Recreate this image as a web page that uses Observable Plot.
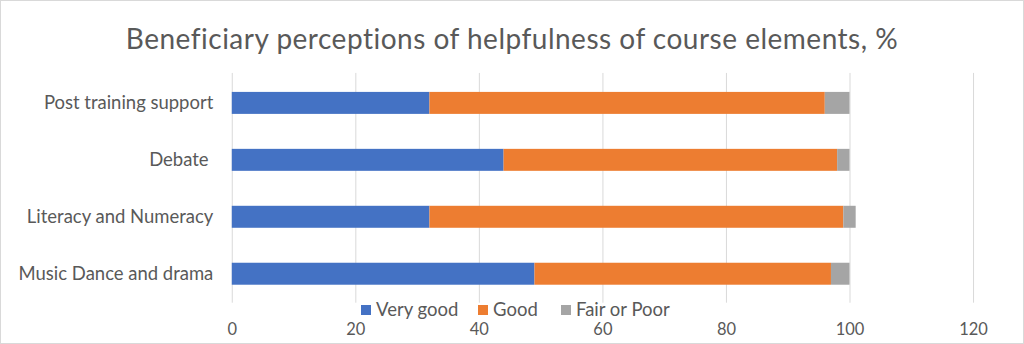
<!DOCTYPE html>
<html>
<head>
<meta charset="utf-8">
<script src="https://cdn.jsdelivr.net/npm/d3@7"></script>
<script src="https://cdn.jsdelivr.net/npm/@observablehq/plot@0.6"></script>
<style>
  html, body { margin: 0; padding: 0; background: #fff; }
  #wrap { position: relative; width: 1022px; height: 342px; border: 1px solid #d9d9d9; overflow: hidden; font-family: Lato, "Open Sans", sans-serif; color: #595959; }
  #title { position: absolute; top: 20px; left: 0; width: 100%; text-align: center; font-size: 28px; line-height: 34px; letter-spacing: 0.5px; }
  #chart { position: absolute; top: -1px; left: -1px; }
  #legend { position: absolute; top: 297px; left: 0; width: 100%; height: 22px; font-size: 18.5px; line-height: 22px; }
  #legend .item { position: absolute; top: 0; white-space: nowrap; }
  #legend span.sw { display: inline-block; width: 10px; height: 10px; margin-right: 5px; vertical-align: 1px; }
</style>
</head>
<body>
<div id="wrap">
  <div id="chart"></div>
  <div id="title">Beneficiary perceptions of helpfulness of course elements, %</div>
  <div id="legend"></div>
</div>
<script>
const categories = ["Post training support", "Debate\u00a0", "Literacy and Numeracy", "Music Dance and drama"];
const seriesNames = ["Very good", "Good", "Fair or Poor"];
const seriesColors = ["#4472C4", "#ED7D31", "#A5A5A5"];
const veryGood = [32, 44, 32, 49];
const good = [64, 54, 67, 48];
const fairPoor = [4, 2, 2, 3];
const xTicks = [0, 20, 40, 60, 80, 100, 120];

const seriesValues = [veryGood, good, fairPoor];
const data = [];
categories.forEach((c, i) => {
  seriesNames.forEach((s, j) => data.push({category: c, series: s, value: seriesValues[j][i]}));
});

const chart = Plot.plot({
  width: 1024,
  height: 344,
  marginTop: 73,
  marginBottom: 41,
  marginLeft: 232,
  marginRight: 50,
  style: {fontFamily: "Lato, 'Open Sans', sans-serif", fontSize: "15px", color: "#595959", background: "transparent"},
  x: {domain: [0, 120], ticks: xTicks, tickSize: 0, tickPadding: 20, label: null, grid: false},
  y: {domain: categories, paddingInner: 0.62, paddingOuter: 0.31, tickSize: 0, tickPadding: 19, label: null},
  color: {domain: seriesNames, range: seriesColors},
  marks: [
    Plot.gridX(xTicks, {stroke: "#d9d9d9", strokeOpacity: 1, strokeWidth: 1}),
    Plot.barX(data, {x: "value", y: "category", fill: "series"}),
    Plot.axisX({ticks: xTicks, tickSize: 0, tickPadding: 20, fontSize: 16.5, label: null}),
    Plot.axisY({tickSize: 0, tickPadding: 19, fontSize: 18.5, label: null})
  ]
});
document.getElementById("chart").appendChild(chart);

const legendX = [360, 477, 560];
const leg = document.getElementById("legend");
seriesNames.forEach((s, i) => {
  const d = document.createElement("div");
  d.className = "item";
  d.style.left = legendX[i] + "px";
  d.innerHTML = `<span class="sw" style="background:${seriesColors[i]}"></span>${s}`;
  leg.appendChild(d);
});
</script>
</body>
</html>
